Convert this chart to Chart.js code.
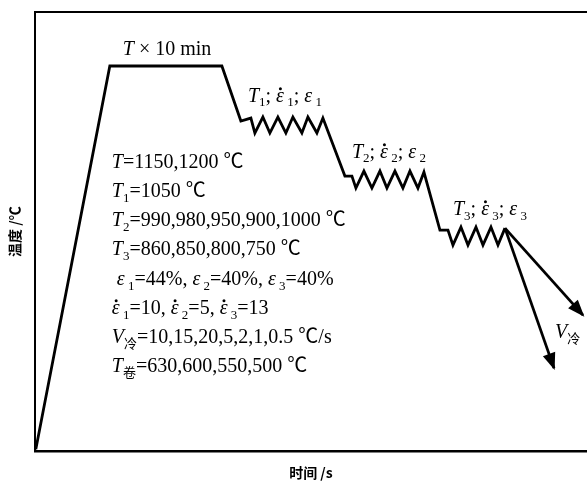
<!DOCTYPE html>
<html>
<head>
<meta charset="utf-8">
<script src="https://cdn.jsdelivr.net/npm/chart.js@4.4.1/dist/chart.umd.min.js"></script>
<style>
    html, body { margin: 0; padding: 0; background: #fff; }
    #wrap { width: 587px; height: 482px; }
</style>
</head>
<body>
<div id="wrap"><canvas id="processChart"></canvas></div>
<script>
// hot rolling schedule - schematic temperature / time path

// heating, soaking, then three deformation passes (arbitrary time and temperature units)
const processTime = [1, 75, 187, 206, 216,
    220, 228, 235, 243, 251, 258, 267, 273, 282, 288,
    310, 317,
    321, 329, 337, 345, 352, 360, 368, 375, 383, 389,
    405, 413,
    418, 426, 433, 441, 448, 456, 463, 470];
const processTemp = [2, 385, 385, 330, 333,
    318, 334, 318, 334, 318, 334, 318, 334, 318, 333,
    275, 275,
    263, 280, 263, 280, 263, 280, 263, 280, 263, 279,
    221, 221,
    206, 224, 206, 224, 206, 224, 206, 223];

// two cooling paths after the last pass
const fastCoolTime = [470, 548];
const fastCoolTemp = [223, 136];
const slowCoolTime = [470, 519];
const slowCoolTemp = [223, 83];

// axis titles
const xTitle = '时间 /s';
const yTitle = '温度 /℃';

// text pieces: [text, style]  i = italic, s = subscript, e = epsilon with dot, n = normal
const stageNotes = [
    [['T', 'i'], [' × 10 min', 'n']],
    [['T', 'i'], ['1', 's'], ['; ', 'n'], ['ε', 'e'], [' 1', 's'], ['; ', 'n'], ['ε', 'i'], [' 1', 's']],
    [['T', 'i'], ['2', 's'], ['; ', 'n'], ['ε', 'e'], [' 2', 's'], ['; ', 'n'], ['ε', 'i'], [' 2', 's']],
    [['T', 'i'], ['3', 's'], ['; ', 'n'], ['ε', 'e'], [' 3', 's'], ['; ', 'n'], ['ε', 'i'], [' 3', 's']],
    [['V', 'i'], ['冷', 's']]
];
const stageNoteAt = [[88, 401], [213, 354], [317, 298], [418, 241], [520, 118]];

const paramLines = [
    [['T', 'i'], ['=1150,1200 ℃', 'n']],
    [['T', 'i'], ['1', 's'], ['=1050 ℃', 'n']],
    [['T', 'i'], ['2', 's'], ['=990,980,950,900,1000 ℃', 'n']],
    [['T', 'i'], ['3', 's'], ['=860,850,800,750 ℃', 'n']],
    [[' ', 'n'], ['ε', 'i'], [' 1', 's'], ['=44%, ', 'n'], ['ε', 'i'], [' 2', 's'], ['=40%, ', 'n'], ['ε', 'i'], [' 3', 's'], ['=40%', 'n']],
    [['ε', 'e'], [' 1', 's'], ['=10, ', 'n'], ['ε', 'e'], [' 2', 's'], ['=5, ', 'n'], ['ε', 'e'], [' 3', 's'], ['=13', 'n']],
    [['V', 'i'], ['冷', 's'], ['=10,15,20,5,2,1,0.5 ℃/s', 'n']],
    [['T', 'i'], ['卷', 's'], ['=630,600,550,500 ℃', 'n']]
];
const paramX = 77;
const paramY = [288, 259, 230, 201, 171, 142, 113, 84];

const SERIF = '"Liberation Serif", "Noto Sans CJK SC", serif';
const FONT_SIZE = 20;

function points(xs, ys) {
    return xs.map((x, i) => ({ x: x, y: ys[i] }));
}

function drawRich(ctx, parts, x, y, size) {
    let cx = x;
    parts.forEach(p => {
        const txt = p[0], st = p[1];
        let fs = size, dy = 0;
        if (st === 's') {
            fs = Math.round(size * 0.66);
            dy = size * 0.3;
        }
        const ital = st === 'i' || st === 'e';
        ctx.font = (ital ? 'italic ' : '') + fs + 'px ' + SERIF;
        ctx.fillText(txt, cx, y + dy);
        const w = ctx.measureText(txt).width;
        if (st === 'e') {
            ctx.beginPath();
            ctx.arc(cx + w * 0.55, y - size * 0.42, 1.5, 0, Math.PI * 2);
            ctx.fill();
        }
        cx += w;
    });
}

// filled arrow heads at the end of the cooling lines
const arrowHeads = {
    id: 'arrowHeads',
    afterDatasetsDraw(chart) {
        const ctx = chart.ctx;
        [1, 2].forEach(i => {
            const pts = chart.getDatasetMeta(i).data;
            const a = pts[pts.length - 2], b = pts[pts.length - 1];
            const ang = Math.atan2(b.y - a.y, b.x - a.x);
            const len = 17, half = 6.5;
            const tx = b.x + Math.cos(ang) * 2, ty = b.y + Math.sin(ang) * 2;
            const bx = tx - Math.cos(ang) * len, by = ty - Math.sin(ang) * len;
            ctx.save();
            ctx.fillStyle = '#000';
            ctx.beginPath();
            ctx.moveTo(tx, ty);
            ctx.lineTo(bx - Math.sin(ang) * half, by + Math.cos(ang) * half);
            ctx.lineTo(bx + Math.sin(ang) * half, by - Math.cos(ang) * half);
            ctx.closePath();
            ctx.fill();
            ctx.restore();
        });
    }
};

// stage labels and the parameter list
const notes = {
    id: 'notes',
    afterDraw(chart) {
        const ctx = chart.ctx;
        const sx = chart.scales.x, sy = chart.scales.y;
        ctx.save();
        ctx.fillStyle = '#000';
        ctx.textBaseline = 'middle';
        ctx.textAlign = 'left';
        stageNotes.forEach((parts, i) => {
            drawRich(ctx, parts, sx.getPixelForValue(stageNoteAt[i][0]), sy.getPixelForValue(stageNoteAt[i][1]), FONT_SIZE);
        });
        paramLines.forEach((parts, i) => {
            drawRich(ctx, parts, sx.getPixelForValue(paramX), sy.getPixelForValue(paramY[i]), FONT_SIZE);
        });
        ctx.restore();
    }
};

const lineStyle = {
    borderColor: '#000',
    borderWidth: 2.8,
    pointRadius: 0,
    tension: 0,
    fill: false,
    borderJoinStyle: 'miter'
};

const ctx = document.getElementById('processChart').getContext('2d');
const myChart = new Chart(ctx, {
    type: 'line',
    data: {
        datasets: [
            Object.assign({ data: points(processTime, processTemp) }, lineStyle),
            Object.assign({ data: points(fastCoolTime, fastCoolTemp) }, lineStyle),
            Object.assign({ data: points(slowCoolTime, slowCoolTemp) }, lineStyle)
        ]
    },
    options: {
        responsive: true,
        maintainAspectRatio: false,
        animation: false,
        layout: { padding: { top: 12, right: 0, bottom: 0, left: 0 } },
        plugins: {
            legend: { display: false },
            tooltip: { enabled: false }
        },
        scales: {
            x: {
                type: 'linear',
                position: 'bottom',
                min: 0,
                max: 552,
                ticks: { display: false },
                grid: { display: false, drawTicks: false },
                border: { display: true, color: '#000', width: 2.5 },
                title: {
                    display: true,
                    text: xTitle,
                    color: '#000',
                    font: { family: '"Noto Sans CJK SC"', size: 14, weight: 'bold' },
                    padding: { top: 13, bottom: 1 }
                }
            },
            x2: {
                type: 'linear',
                position: 'top',
                min: 0,
                max: 552,
                ticks: { display: false },
                grid: { display: false, drawTicks: false },
                border: { display: true, color: '#000', width: 2 }
            },
            y: {
                type: 'linear',
                min: 0,
                max: 439,
                ticks: { display: false },
                grid: { display: false, drawTicks: false },
                border: { display: true, color: '#000', width: 2 },
                title: {
                    display: true,
                    text: yTitle,
                    color: '#000',
                    font: { family: '"Noto Sans CJK SC"', size: 14, weight: 'bold' },
                    padding: { top: 6, bottom: 12 }
                }
            }
        }
    },
    plugins: [arrowHeads, notes]
});
</script>
</body>
</html>
